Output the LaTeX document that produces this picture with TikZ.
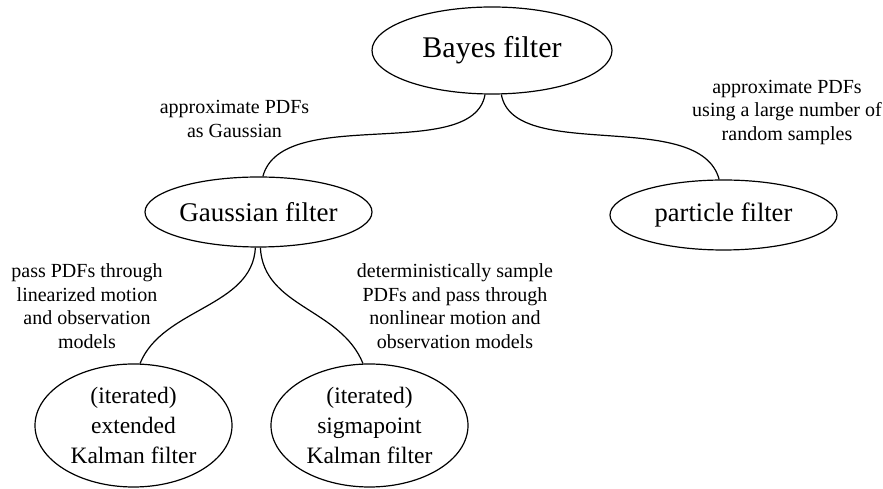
\documentclass[tikz,border=0pt]{standalone}
\usepackage{fontspec}
\setmainfont{Liberation Serif}
\usetikzlibrary{shapes.geometric,topaths}
\tikzset{
  filt/.style={ellipse, draw, line width=1.2pt, inner sep=0pt, align=center},
  lbl/.style={align=center, inner sep=0pt, font=\fontsize{20}{23.5}\selectfont},
  conn/.style={line width=1.2pt}
}
\begin{document}
\begin{tikzpicture}[x=1pt,y=1pt]
\useasboundingbox (0,0) rectangle (883,489);
% nodes (y = 489 - pixel row)
\node[filt, minimum width=240pt, minimum height=87pt, font=\fontsize{30}{34}\selectfont] (bayes) at (492,438.5) {Bayes filter};
\node[filt, minimum width=227pt, minimum height=70pt, font=\fontsize{27}{31}\selectfont] (gauss) at (258.5,277) {Gaussian filter};
\node[filt, minimum width=227pt, minimum height=70pt, font=\fontsize{26.5}{30}\selectfont] (part) at (723.5,274) {particle filter};
\node[filt, minimum width=197pt, minimum height=123pt, font=\fontsize{23.5}{30}\selectfont] (ekf) at (133.5,63.5) {(iterated)\\extended\\Kalman filter};
\node[filt, minimum width=197pt, minimum height=123pt, font=\fontsize{23.5}{30}\selectfont] (ukf) at (369.5,63.5) {(iterated)\\sigmapoint\\Kalman filter};
% labels
\node[lbl] (l1) at (234.5,370) {approximate PDFs\\as Gaussian};
\node[lbl] (l2) at (787,376.5) {approximate PDFs\\using a large number of\\random samples};
\node[lbl] (l3) at (87,183) {pass PDFs through\\linearized motion\\and observation\\models};
\node[lbl] (l4) at (455,183) {deterministically sample\\PDFs and pass through\\nonlinear motion and\\observation models};
% connectors
\draw[conn] (bayes.-99) to[out=-100, in=75, out distance=70pt, in distance=75pt] (gauss.83);
\draw[conn] (bayes.-78) to[out=-80, in=105, out distance=70pt, in distance=75pt] (part.97);
\draw[conn] (gauss.-95.6) to[out=-93, in=68, out distance=60pt, in distance=60pt] (ekf.84);
\draw[conn] (gauss.-87.6) to[out=-87, in=112, out distance=60pt, in distance=60pt] (ukf.96);
\end{tikzpicture}
\end{document}
